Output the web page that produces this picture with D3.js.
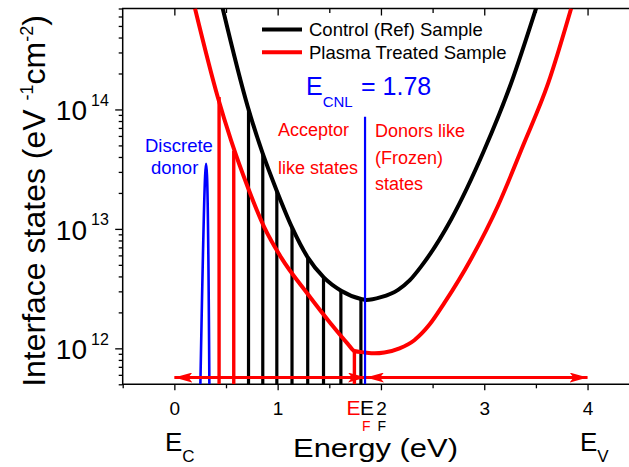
<!DOCTYPE html>
<html>
<head>
<meta charset="utf-8">
<script src="https://cdn.jsdelivr.net/npm/d3@7"></script>
<style>
  body { margin: 0; background: #fff; }
  svg { display: block; font-family: "Liberation Sans", Arial, sans-serif; }
</style>
</head>
<body>
<div id="chart"></div>
<script>
// curves (energy in eV, states in eV^-1 cm^-2)
var controlE = [0.468, 0.711, 0.856, 0.991, 1.139, 1.291, 1.446, 1.614, 1.808, 1.856, 2.0, 2.166, 2.28, 2.388, 2.679, 2.998, 3.259, 3.501];
var controlD = [7e14, 1.05e14, 4.26e13, 2.09e13, 1.03e13, 5.78e12, 3.93e12, 3.04e12, 2.59e12, 2.54e12, 2.68e12, 3.09e12, 3.72e12, 4.83e12, 1.2e13, 4.53e13, 1.65e14, 7e14];

var plasmaE = [0.200, 0.420, 0.549, 0.711, 0.871, 1.033, 1.291, 1.517, 1.679, 1.743, 1.839, 1.94, 2.033, 2.18, 2.323, 2.47, 2.614, 2.872, 3.134, 3.376, 3.618, 3.841];
var plasmaD = [7e14, 1.27e14, 5.5e13, 2.23e13, 1.03e13, 5.78e12, 2.85e12, 1.6e12, 1.09e12, 9.5e11, 9.25e11, 9.08e11, 9.23e11, 1.0e12, 1.17e12, 1.58e12, 2.4e12, 5.6e12, 1.57e13, 4.99e13, 1.65e14, 7e14];

// vertical state bars
var blackBarE = [0.718, 0.856, 0.992, 1.139, 1.291, 1.444, 1.612, 1.806];
var blackBarD = [1.0e14, 4.26e13, 2.09e13, 1.03e13, 5.78e12, 3.93e12, 3.04e12, 2.59e12];
var redBarE = [0.433, 0.575, 1.743];
var redBarD = [1.27e14, 4.5e13, 9.5e11];

// discrete donor peak
var donorE = [0.252, 0.298, 0.307, 0.316, 0.339];
var donorD = [5e11, 2.8e13, 3.5e13, 2.8e13, 5e11];

var ecnl = 1.846, ecnlTop = 8.7e13;
var arrowY = 5.7e11;
var arrows = [[0, 1.855], [1.855, 4.0]];

var xMajor = [0, 1, 2, 3, 4];
var xMinor = [-0.5, 0.5, 1.5, 2.5, 3.5];
var yMajor = [1e12, 1e13, 1e14];
var yExp = ["12", "13", "14"];

var width = 629, height = 467;
var plotLeft = 122.7, plotTop = 8.5, plotBottom = 384.3;

var x = d3.scaleLinear().domain([-0.5, 4.5]).range([plotLeft, plotLeft + 5 * 103.3]);
var y = d3.scaleLog().domain([5e11, 7e14]).range([plotBottom, plotTop]);

var svg = d3.select("#chart").append("svg")
    .attr("width", width)
    .attr("height", height);

var defs = svg.append("defs");
defs.append("clipPath").attr("id", "plot")
  .append("rect")
    .attr("x", plotLeft).attr("y", plotTop)
    .attr("width", width - plotLeft).attr("height", plotBottom - plotTop);

var yMinor = [];
[1e11, 1e12, 1e13, 1e14].forEach(function(p) {
  for (var k = 2; k <= 9; k++) {
    var v = k * p;
    if (v >= 5e11 && v <= 7e14) yMinor.push(v);
  }
});

// axes
svg.append("g")
    .attr("transform", "translate(0," + plotBottom + ")")
    .call(d3.axisBottom(x).tickValues(xMajor).tickSize(6).tickSizeOuter(0).tickPadding(11).tickFormat(d3.format("d")))
    .call(function(g) { g.select(".domain").remove(); })
    .selectAll("text").style("font-size", "19px").style("font-family", "Liberation Sans, Arial, sans-serif").attr("fill", "#000");

svg.append("g")
    .attr("transform", "translate(0," + plotBottom + ")")
    .call(d3.axisBottom(x).tickValues(xMinor).tickSize(4).tickFormat(""))
    .call(function(g) { g.select(".domain").remove(); });

svg.append("g")
    .attr("transform", "translate(0," + plotTop + ")")
    .call(d3.axisTop(x).tickValues(xMajor).tickSize(-7).tickFormat(""))
    .call(function(g) { g.select(".domain").remove(); });

svg.append("g")
    .attr("transform", "translate(0," + plotTop + ")")
    .call(d3.axisTop(x).tickValues([0.5, 1.5, 2.5, 3.5]).tickSize(-4.5).tickFormat(""))
    .call(function(g) { g.select(".domain").remove(); });

svg.append("g")
    .attr("transform", "translate(" + plotLeft + ",0)")
    .call(d3.axisLeft(y).tickValues(yMajor).tickSize(7.5).tickFormat(""))
    .call(function(g) { g.select(".domain").remove(); });

svg.append("g")
    .attr("transform", "translate(" + plotLeft + ",0)")
    .call(d3.axisLeft(y).tickValues(yMinor).tickSize(4).tickFormat(""))
    .call(function(g) { g.select(".domain").remove(); });

svg.selectAll(".tick line").attr("stroke", "#000").attr("stroke-width", 1.3);

// frame
svg.append("path")
    .attr("d", "M" + (width + 5) + "," + plotTop + "H" + plotLeft + "V" + plotBottom + "H" + (width + 5))
    .attr("fill", "none").attr("stroke", "#000").attr("stroke-width", 1.5);

// y tick labels 10^n
yMajor.forEach(function(v, i) {
  svg.append("text")
      .attr("x", 87).attr("y", y(v) + 11)
      .attr("text-anchor", "end")
      .style("font-size", "28px")
      .text("10");
  svg.append("text")
      .attr("x", 91).attr("y", y(v) - 3.5)
      .style("font-size", "16px")
      .text(yExp[i]);
});

var plot = svg.append("g").attr("clip-path", "url(#plot)");

// bars
plot.selectAll(".bbar")
    .data(blackBarE)
  .enter().append("line")
    .attr("x1", function(d) { return x(d); })
    .attr("x2", function(d) { return x(d); })
    .attr("y1", y(5e11))
    .attr("y2", function(d, i) { return y(blackBarD[i]); })
    .attr("stroke", "#000").attr("stroke-width", 3.2);

plot.selectAll(".rbar")
    .data(redBarE)
  .enter().append("line")
    .attr("x1", function(d) { return x(d); })
    .attr("x2", function(d) { return x(d); })
    .attr("y1", y(5e11))
    .attr("y2", function(d, i) { return y(redBarD[i]); })
    .attr("stroke", "#ff0000").attr("stroke-width", 3.4);

// discrete donor
var donorLine = d3.line()
    .x(function(d) { return x(d[0]); })
    .y(function(d) { return y(d[1]); })
    .curve(d3.curveCatmullRom);
plot.append("path")
    .datum(d3.zip(donorE, donorD))
    .attr("d", donorLine)
    .attr("fill", "none").attr("stroke", "#0000ff").attr("stroke-width", 2.6)
    .attr("stroke-linejoin", "round");

// curves
var curve = d3.line()
    .x(function(d) { return x(d[0]); })
    .y(function(d) { return y(d[1]); })
    .curve(d3.curveMonotoneX);

plot.append("path")
    .datum(d3.zip(plasmaE, plasmaD))
    .attr("d", curve)
    .attr("fill", "none").attr("stroke", "#ff0000").attr("stroke-width", 4);

plot.append("path")
    .datum(d3.zip(controlE, controlD))
    .attr("d", curve)
    .attr("fill", "none").attr("stroke", "#000").attr("stroke-width", 4);

// arrows
defs.append("marker").attr("id", "ahead")
    .attr("viewBox", "0 0 18 10").attr("refX", 18).attr("refY", 5)
    .attr("markerWidth", 18).attr("markerHeight", 10)
    .attr("markerUnits", "userSpaceOnUse").attr("orient", "auto-start-reverse")
  .append("path").attr("d", "M0,0L18,5L0,10L4,5Z").attr("fill", "#ff0000");

arrows.forEach(function(a) {
  plot.append("line")
      .attr("x1", x(a[0])).attr("x2", x(a[1]))
      .attr("y1", y(arrowY)).attr("y2", y(arrowY))
      .attr("stroke", "#ff0000").attr("stroke-width", 3)
      .attr("marker-start", "url(#ahead)")
      .attr("marker-end", "url(#ahead)");
});

// charge neutrality level
plot.append("line")
    .attr("x1", x(ecnl)).attr("x2", x(ecnl))
    .attr("y1", y(5e11)).attr("y2", y(ecnlTop))
    .attr("stroke", "#0000ff").attr("stroke-width", 2.2);

// legend
var legend = [["Control (Ref) Sample", "#000"], ["Plasma Treated Sample", "#ff0000"]];
legend.forEach(function(l, i) {
  svg.append("line")
      .attr("x1", 262).attr("x2", 302)
      .attr("y1", 29.5 + i * 22.8).attr("y2", 29.5 + i * 22.8)
      .attr("stroke", l[1]).attr("stroke-width", 4);
  svg.append("text")
      .attr("x", 309).attr("y", 36 + i * 22.8)
      .style("font-size", "18.5px")
      .text(l[0]);
});

// annotations
var ec = svg.append("text").attr("x", 306).attr("y", 95).attr("fill", "#0000ff").style("font-size", "25px");
ec.append("tspan").text("E");
ec.append("tspan").attr("dy", 12).style("font-size", "15px").text("CNL");
ec.append("tspan").attr("dy", -12).attr("x", 361).text("= 1.78");

function label(txt, px, py, color, size) {
  svg.append("text").attr("x", px).attr("y", py)
      .attr("fill", color).style("font-size", size + "px").text(txt);
}
label("Discrete", 145, 151.5, "#0000ff", 18.5);
label("donor", 151, 173.5, "#0000ff", 18.5);
label("Acceptor", 278, 136, "#ff0000", 18);
label("like states", 278, 174, "#ff0000", 18);
label("Donors like", 375, 137, "#ff0000", 18);
label("(Frozen)", 375, 163.5, "#ff0000", 18);
label("states", 375, 190, "#ff0000", 18);

// Fermi levels under the axis
label("E", 346.5, 415, "#ff0000", 21);
label("F", 362, 431, "#ff0000", 14);
label("E", 360, 415, "#000", 21);
label("F", 377.5, 431, "#000", 14);

// band edges
var ecb = svg.append("text").attr("x", 165).attr("y", 451).style("font-size", "26px");
ecb.append("tspan").text("E");
ecb.append("tspan").attr("dy", 11).style("font-size", "17px").text("C");
var evb = svg.append("text").attr("x", 580).attr("y", 451).style("font-size", "26px");
evb.append("tspan").text("E");
evb.append("tspan").attr("dy", 11).style("font-size", "17px").text("V");

// axis titles
svg.append("text")
    .attr("x", 293).attr("y", 457)
    .attr("textLength", 165).attr("lengthAdjust", "spacingAndGlyphs")
    .style("font-size", "26px")
    .text("Energy (eV)");

var yl = svg.append("text")
    .attr("transform", "translate(45,201) rotate(-90)")
    .attr("text-anchor", "middle")
    .style("font-size", "32px");
yl.append("tspan").text("Interface states (eV ");
yl.append("tspan").attr("dy", -12).style("font-size", "18px").text("-1");
yl.append("tspan").attr("dy", 12).text("cm");
yl.append("tspan").attr("dy", -12).style("font-size", "18px").text("-2");
yl.append("tspan").attr("dy", 12).text(")");
</script>
</body>
</html>
